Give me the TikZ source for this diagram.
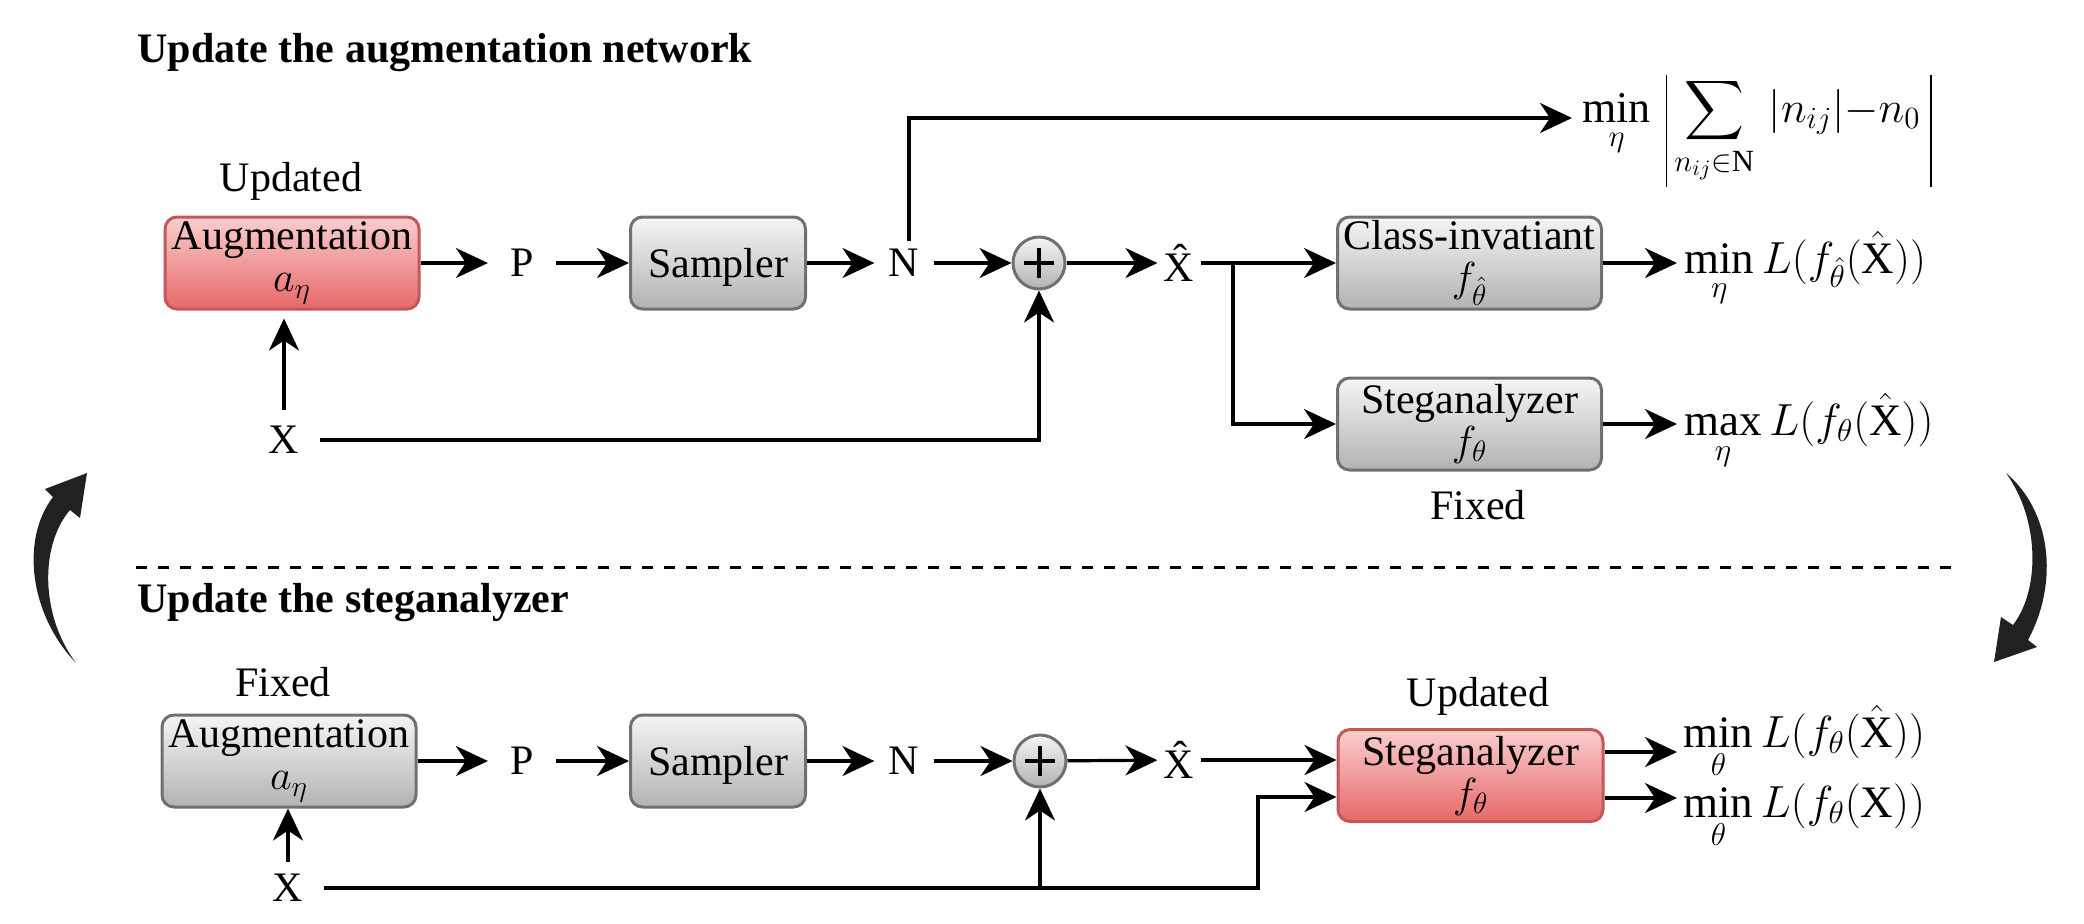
\RequirePackage{fix-cm}
\documentclass[tikz,border=0pt]{standalone}
\usepackage{exscale}
\usepackage{fontspec}
\setmainfont{Liberation Serif}
\usetikzlibrary{arrows.meta}
\definecolor{gtop}{RGB}{245,245,245}
\definecolor{gbot}{RGB}{178,178,178}
\definecolor{gline}{RGB}{112,112,112}
\definecolor{rtop}{RGB}{249,206,206}
\definecolor{rbot}{RGB}{231,104,104}
\definecolor{rline}{RGB}{196,88,88}
\definecolor{curv}{RGB}{34,32,32}
\newcommand{\onestrut}{\rule{0pt}{19pt}}
\begin{document}
\begin{tikzpicture}[x=0.5pt,y=-0.5pt,
  every node/.style={font=\fontsize{21}{21}\selectfont},
  gbox/.style={draw=gline, line width=1.5pt, rounded corners=6pt, top color=gtop, bottom color=gbot, minimum height=46pt, inner sep=0pt, align=center},
  rbox/.style={gbox, draw=rline, top color=rtop, bottom color=rbot},
  pls/.style={circle, draw=gline, line width=1.5pt, top color=gtop, bottom color=gbot, minimum size=26pt, inner sep=0pt},
  lbl/.style={inner ysep=3pt},
  arr/.style={line width=1.6pt, -{Stealth[length=16pt,width=15pt,inset=5pt]}},
  ttl/.style={anchor=base west, inner sep=0pt, font=\fontsize{21}{21}\selectfont\bfseries},
  fml/.style={anchor=base west, inner sep=0pt, font=\fontsize{22.5}{22.5}\selectfont}]
\useasboundingbox (0,0) rectangle (2084,923);

% ---------- top section ----------
\node[ttl] (t1) at (137,62) {Update the augmentation network};
\node (upd1) at (291,181) {Updated};
\node[rbox, minimum width=127pt] (aug1) at (292,263) {Augmentation\\$a_\eta$};
\node[lbl, inner xsep=11pt] (P1) at (522,263) {P};
\node[gbox, minimum width=87.5pt] (sam1) at (718,263) {\onestrut Sampler};
\node[lbl, inner xsep=7pt, inner ysep=4pt] (N1) at (904,263) {N};
\node[pls] (plus1) at (1039,263) {};
\draw[line width=2pt] (plus1.center) +(-15,0) -- +(15,0) (plus1.center) +(0,-15) -- +(0,15);
\node[lbl, inner xsep=3pt] (Xh1) at (1179,263) {\^{X}};
\node[gbox, minimum width=132pt] (cls) at (1469.5,263) {Class-invatiant\\$f_{\hat{\theta}}$};
\node[gbox, minimum width=132pt] (steg1) at (1469.5,424) {Steganalyzer\\$f_{\theta}$};
\node (fix1) at (1478,505) {Fixed};
\node[inner xsep=10pt, inner ysep=8pt] (X1) at (284,440) {X};

\coordinate (br1) at (1233,263);
\coordinate (nt) at (909,118);
\coordinate (mt) at (1572,118);
\coordinate (o1) at (1677,263);
\coordinate (o2) at (1677,424);

\node[fml, font=\fontsize{22}{22}\selectfont] (f0) at (1582,122) {$\displaystyle \min_{\eta}\mkern3mu\rule[-32.5pt]{0.8pt}{56pt}\sum_{n_{ij}\in\mathrm{N}}\mkern3mu |n_{ij}|{-}n_0\mkern4mu\rule[-32.5pt]{0.8pt}{56pt}$};
\node[fml] (f1) at (1684,273) {$\displaystyle\min_{\eta} L(f_{\hat{\theta}}(\hat{\mathrm{X}}))$};
\node[fml] (f2) at (1684,435) {$\displaystyle\max_{\eta} L(f_{\theta}(\hat{\mathrm{X}}))$};

\draw[arr] (aug1) -- (P1);
\draw[arr] (P1) -- (sam1);
\draw[arr] (sam1) -- (N1);
\draw[arr] (N1) -- (plus1);
\draw[arr] (plus1) -- (Xh1);
\draw[arr] (Xh1) -- (cls);
\draw[arr] (br1) |- (steg1.west);
\draw[arr] (X1) -| (plus1);
\draw[arr, shorten >=4pt] (X1) -- (X1 |- aug1.south);
\draw[arr] (nt |- N1.north) -- (nt) -- (mt);
\draw[arr] (cls) -- (o1);
\draw[arr] (steg1) -- (o2);

% ---------- separator ----------
\coordinate (d1) at (136,567);
\coordinate (d2) at (1955,567);
\draw[line width=1.5pt, dash pattern=on 5.5pt off 5.5pt] (d1) -- (d2);

% ---------- curved arrows ----------
\fill[curv] (76,663) .. controls (30,615) and (20,540) .. (53,497) -- (45,489) -- (87,473) -- (80,518) -- (70,510) .. controls (40,545) and (40,615) .. (76,663) -- cycle;
\fill[curv] (2006,473) .. controls (2050,510) and (2060,580) .. (2028,640) -- (2037,647) -- (1994,662) -- (2001,617) -- (2013,625) .. controls (2040,590) and (2040,520) .. (2006,473) -- cycle;

% ---------- bottom section ----------
\node[ttl] (t2) at (137,612) {Update the steganalyzer};
\node (fix2) at (283,682) {Fixed};
\node[gbox, minimum width=127pt] (aug2) at (289,761) {Augmentation\\$a_\eta$};
\node[lbl, inner xsep=11pt] (P2) at (522,761) {P};
\node[gbox, minimum width=87.5pt] (sam2) at (718,761) {\onestrut Sampler};
\node[lbl, inner xsep=7pt] (N2) at (904,761) {N};
\node[pls] (plus2) at (1040,761) {};
\draw[line width=2pt] (plus2.center) +(-15,0) -- +(15,0) (plus2.center) +(0,-15) -- +(0,15);
\node[lbl, inner xsep=3pt] (Xh2) at (1179,760) {\^{X}};
\node (upd2) at (1478,696) {Updated};
\node[rbox, minimum width=132.5pt] (sb2) at (1470.5,775.5) {Steganalyzer\\$f_{\theta}$};
\node[inner xsep=10pt, inner ysep=6pt] (X2) at (288,888) {X};

\coordinate (br2) at (1258,797);
\coordinate (o3) at (1677,752);
\coordinate (o4) at (1677,798);

\node[fml] (f3) at (1683,747) {$\displaystyle\min_{\theta} L(f_{\theta}(\hat{\mathrm{X}}))$};
\node[fml] (f4) at (1683,817) {$\displaystyle\min_{\theta} L(f_{\theta}(\mathrm{X}))$};

\draw[arr] (aug2) -- (P2);
\draw[arr] (P2) -- (sam2);
\draw[arr] (sam2) -- (N2);
\draw[arr] (N2) -- (plus2);
\draw[arr] (plus2) -- (Xh2);
\draw[arr] (Xh2) -- (Xh2 -| sb2.west);
\draw[arr] (X2) -| (plus2);
\draw[arr] (X2) -| (br2) -- (br2 -| sb2.west);
\draw[arr] (X2) -- (X2 |- aug2.south);
\draw[arr] (sb2.east |- o3) -- (o3);
\draw[arr] (sb2.east |- o4) -- (o4);
\end{tikzpicture}
\end{document}
